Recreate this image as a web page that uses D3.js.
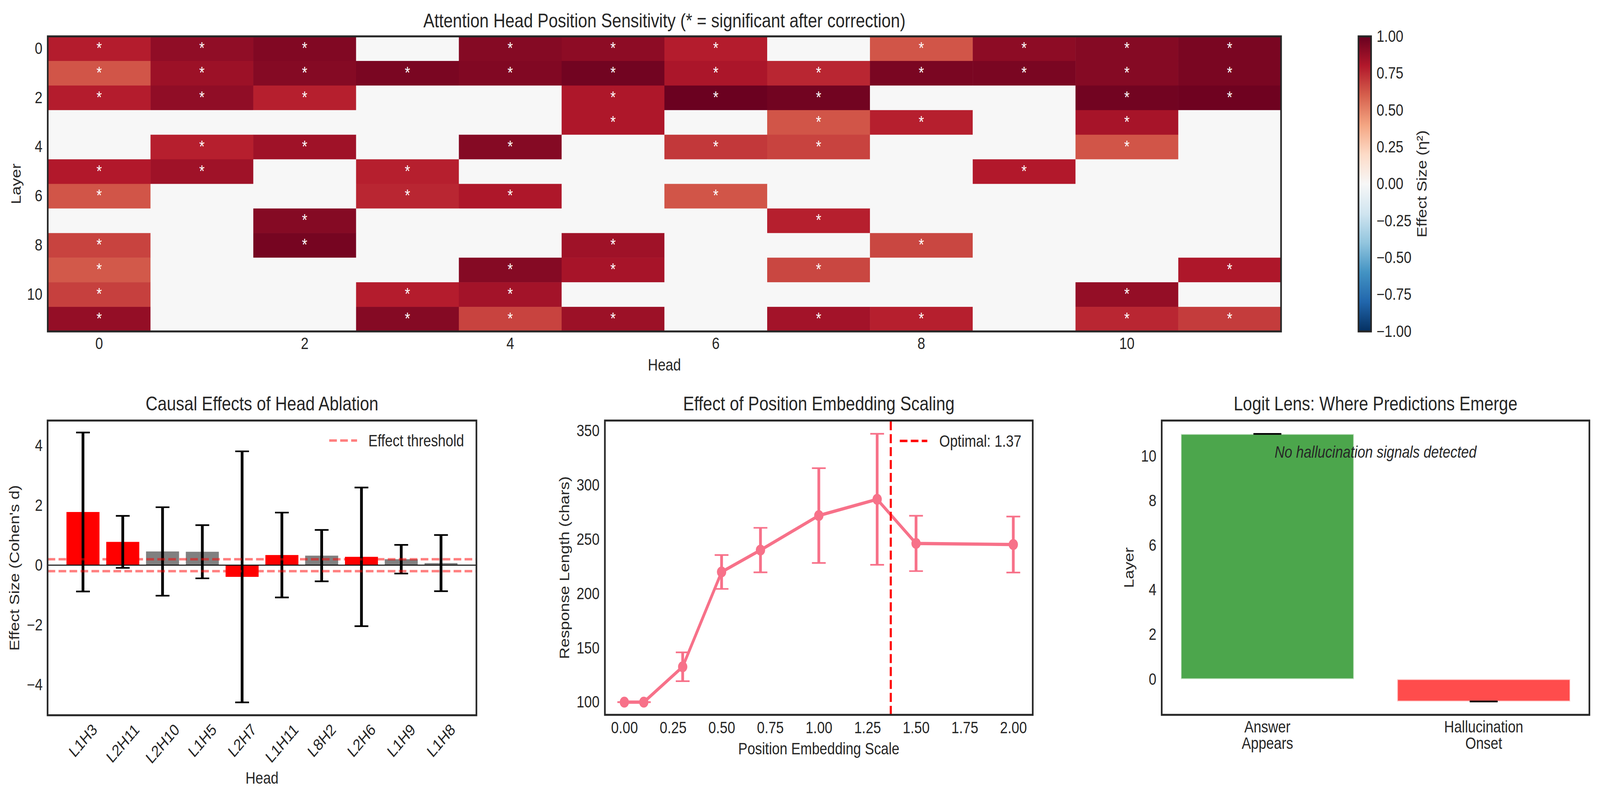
<!DOCTYPE html>
<html><head><meta charset="utf-8">
<script src="https://cdn.jsdelivr.net/npm/d3@7"></script>
<style>
html,body{margin:0;padding:0;background:#fff;overflow:hidden;}
#chart{display:block;width:100vw;height:100vh;}
svg text{font-family:"Liberation Sans",Arial,Helvetica,sans-serif;fill:#262626;}
</style></head><body>
<svg id="chart" viewBox="0 0 4826 2052" preserveAspectRatio="none" xmlns="http://www.w3.org/2000/svg"></svg>
<script>
// ---------------- DATA ----------------
// Heatmap: effect size (eta^2) per layer (rows) x head (cols); 0 = not significant (masked)
const layers = [0,1,2,3,4,5,6,7,8,9,10,11];
const heads = [0,1,2,3,4,5,6,7,8,9,10,11];
const heatTicks = [0,2,4,6,8,10];
const etaSquared = [
  [0.79,0.89,0.93,0,   0.92,0.90,0.79,0,   0.63,0.90,0.92,0.95],
  [0.63,0.86,0.92,0.95,0.93,0.97,0.82,0.76,0.95,0.95,0.92,0.95],
  [0.79,0.89,0.78,0,   0,   0.81,0.99,0.97,0,   0,   0.97,0.98],
  [0,   0,   0,   0,   0,   0.81,0,   0.63,0.78,0,   0.83,0   ],
  [0,   0.78,0.85,0,   0.92,0,   0.71,0.68,0,   0,   0.63,0   ],
  [0.80,0.85,0,   0.78,0,   0,   0,   0,   0,   0.80,0,   0   ],
  [0.63,0,   0,   0.76,0.81,0,   0.63,0,   0,   0,   0,   0   ],
  [0,   0,   0.92,0,   0,   0,   0,   0.78,0,   0,   0,   0   ],
  [0.68,0,   0.96,0,   0,   0.85,0,   0,   0.67,0,   0,   0   ],
  [0.62,0,   0,   0,   0.92,0.83,0,   0.67,0,   0,   0,   0.81],
  [0.69,0,   0,   0.79,0.84,0,   0,   0,   0,   0,   0.88,0   ],
  [0.88,0,   0,   0.92,0.68,0.86,0,   0.84,0.78,0,   0.76,0.70]
];
const colorbarTicks = [-1,-0.75,-0.5,-0.25,0,0.25,0.5,0.75,1];
const rdbuStops = [-1,-0.8,-0.6,-0.4,-0.2,0,0.2,0.4,0.6,0.8,1];
const rdbuColors = ['#053061','#2166ac','#4393c3','#92c5de','#d1e5f0','#f7f7f7','#fddbc7','#f4a582','#d6604d','#b2182b','#67001f'];

// Causal ablation
const ablationHeads = ["L1H3","L2H11","L2H10","L1H5","L2H7","L1H11","L8H2","L2H6","L1H9","L1H8"];
const ablationEffect = [1.78,0.78,0.46,0.45,-0.39,0.34,0.32,0.28,0.20,0.07];
const ablationError = [2.66,0.87,1.48,0.89,4.20,1.42,0.86,2.32,0.48,0.94];
const ablationSignificant = [true,true,false,false,true,true,false,true,false,false];
const effectThreshold = 0.2;
const ablationYTicks = [-4,-2,0,2,4];

// Position embedding scaling
const posScales = [0.0,0.1,0.3,0.5,0.7,1.0,1.3,1.5,2.0];
const respLength = [100,100,132.6,220,240.2,272,287,246.3,245.3];
const respError = [0,0,13.3,15.6,20.5,43.7,60.4,25.5,25.8];
const optimalScale = 1.37;
const posXTicks = [0,0.25,0.5,0.75,1,1.25,1.5,1.75,2];
const posYTicks = [100,150,200,250,300,350];

// Logit lens
const lensCats = [["Answer","Appears"],["Hallucination","Onset"]];
const lensValues = [11,-1];
const lensError = [0,0];
const lensColors = ["#008000","#ff0000"];
const lensYTicks = [0,2,4,6,8,10];

// ---------------- DRAW ----------------
const svg = d3.select("#chart");
const FS = 41.67, TFS = 50, INK = "#262626";
const fmt2 = d3.format(".2f");

function styleAxis(g){
  g.select(".domain").remove();
  g.attr("font-family",null).attr("font-size",null);
  g.selectAll("text").attr("font-size",FS).attr("fill",INK);
}
function frame(x0,y0,x1,y1){
  svg.append("rect").attr("x",x0).attr("y",y0).attr("width",x1-x0).attr("height",y1-y0)
    .attr("fill","none").attr("stroke",INK).attr("stroke-width",5);
}
function title(x,y,t){
  svg.append("text").attr("x",x).attr("y",y).attr("text-anchor","middle").attr("font-size",TFS).text(t);
}
function xlabel(x,y,t){
  svg.append("text").attr("x",x).attr("y",y).attr("text-anchor","middle").attr("font-size",FS).text(t);
}
function ylabel(x,y,t){
  svg.append("text").attr("transform",`translate(${x},${y}) rotate(-90)`).attr("text-anchor","middle")
    .attr("dominant-baseline","central").attr("font-size",FS).text(t);
}

// ===== Heatmap =====
const H = {x0:144,x1:3864,y0:93,y1:848};
const hx = d3.scaleBand().domain(heads).range([H.x0,H.x1]);
const hy = d3.scaleBand().domain(layers).range([H.y0,H.y1]);
const hcolor = d3.scaleLinear().domain(rdbuStops).range(rdbuColors).interpolate(d3.interpolateRgb).clamp(true);
const cells = [];
layers.forEach((l,i)=>heads.forEach((h,j)=>cells.push({l,h,v:etaSquared[i][j]})));
const gh = svg.append("g");
gh.selectAll("rect").data(cells).join("rect")
  .attr("x",d=>hx(d.h)).attr("y",d=>hy(d.l))
  .attr("width",hx.bandwidth()+0.6).attr("height",hy.bandwidth()+0.6)
  .attr("fill",d=>hcolor(d.v));
gh.selectAll("text.star").data(cells.filter(d=>d.v!==0)).join("text").attr("class","star")
  .attr("x",d=>hx(d.h)+hx.bandwidth()/2).attr("y",d=>hy(d.l)+hy.bandwidth()/2+12.5)
  .attr("text-anchor","middle").attr("font-size",FS).style("fill","#fff").text("*");
svg.append("g").attr("transform",`translate(0,${H.y1})`)
  .call(d3.axisBottom(hx).tickValues(heatTicks).tickSize(0).tickPadding(15)).call(styleAxis);
svg.append("g").attr("transform",`translate(${H.x0},0)`)
  .call(d3.axisLeft(hy).tickValues(heatTicks).tickSize(0).tickPadding(16)).call(styleAxis);
frame(H.x0,H.y0,H.x1,H.y1);
title((H.x0+H.x1)/2,70,"Attention Head Position Sensitivity (* = significant after correction)");
xlabel((H.x0+H.x1)/2,948,"Head");
ylabel(48,(H.y0+H.y1)/2,"Layer");

// colorbar
const CB = {x0:4097.5,x1:4135.5};
const cy = d3.scaleLinear().domain([-1,1]).range([H.y1,H.y0]);
const grad = svg.append("defs").append("linearGradient").attr("id","cbgrad")
  .attr("x1",0).attr("x2",0).attr("y1",1).attr("y2",0);
rdbuStops.forEach((s,i)=>grad.append("stop").attr("offset",(s+1)/2).attr("stop-color",rdbuColors[i]));
svg.append("rect").attr("x",CB.x0).attr("y",H.y0).attr("width",CB.x1-CB.x0).attr("height",H.y1-H.y0)
  .attr("fill","url(#cbgrad)");
frame(CB.x0,H.y0,CB.x1,H.y1);
svg.append("g").attr("transform",`translate(${CB.x1+2.5},0)`)
  .call(d3.axisRight(cy).tickValues(colorbarTicks).tickFormat(fmt2).tickSize(0).tickPadding(14)).call(styleAxis);
svg.append("text").attr("transform",`translate(4288,${(H.y0+H.y1)/2}) rotate(-90)`)
  .attr("text-anchor","middle").attr("dominant-baseline","central").attr("font-size",FS).text("Effect Size (η²)");

// ===== Causal ablation =====
const A = {x0:143.5,x1:1437,y0:1076,y1:1830};
const ax = d3.scaleBand().domain(ablationHeads).range([A.x0,A.x1]).paddingInner(0.17).paddingOuter(0.475);
const ay = d3.scaleLinear().domain([-5.02,4.84]).range([A.y1,A.y0]);
const abl = ablationHeads.map((h,i)=>({h,v:ablationEffect[i],e:ablationError[i],s:ablationSignificant[i]}));
const ga = svg.append("g");
ga.selectAll("rect").data(abl).join("rect")
  .attr("x",d=>ax(d.h)).attr("width",ax.bandwidth())
  .attr("y",d=>ay(Math.max(0,d.v))).attr("height",d=>Math.abs(ay(d.v)-ay(0)))
  .attr("fill",d=>d.s?"#ff0000":"#808080");
const cxA = d=>ax(d.h)+ax.bandwidth()/2;
ga.selectAll("line.eb").data(abl).join("line").attr("class","eb")
  .attr("x1",cxA).attr("x2",cxA).attr("y1",d=>ay(d.v-d.e)).attr("y2",d=>ay(d.v+d.e))
  .attr("stroke","#000").attr("stroke-width",8.33);
[-1,1].forEach(sgn=>{
  ga.selectAll(`line.cap${sgn}`).data(abl).join("line").attr("class",`cap${sgn}`)
    .attr("x1",d=>cxA(d)-20.8).attr("x2",d=>cxA(d)+20.8)
    .attr("y1",d=>ay(d.v+sgn*d.e)).attr("y2",d=>ay(d.v+sgn*d.e))
    .attr("stroke","#000").attr("stroke-width",4.17);
});
ga.append("line").attr("x1",A.x0).attr("x2",A.x1).attr("y1",ay(0)).attr("y2",ay(0))
  .attr("stroke","#000").attr("stroke-width",2.5);
[effectThreshold,-effectThreshold].forEach(t=>{
  ga.append("line").attr("x1",A.x0).attr("x2",A.x1).attr("y1",ay(t)).attr("y2",ay(t))
    .attr("stroke","#ff0000").attr("stroke-opacity",0.5).attr("stroke-width",6.25).attr("stroke-dasharray","23.1,10");
});
ga.append("line").attr("x1",993).attr("x2",1077).attr("y1",1127).attr("y2",1127)
  .attr("stroke","#ff0000").attr("stroke-opacity",0.5).attr("stroke-width",6.25).attr("stroke-dasharray","23.1,10");
svg.append("text").attr("x",1111).attr("y",1142).attr("font-size",FS).text("Effect threshold");
const axX = svg.append("g").attr("transform",`translate(0,${A.y1})`)
  .call(d3.axisBottom(ax).tickSize(0)).call(styleAxis);
axX.selectAll("text").each(function(){
  const t = d3.select(this);
  const w = this.getComputedTextLength();
  const Hh = (w+46)/Math.SQRT2;
  t.attr("y",null).attr("dy",null).attr("text-anchor","middle").attr("dominant-baseline","central")
   .attr("transform",`translate(0,${13+Hh/2}) rotate(-45)`);
});
svg.append("g").attr("transform",`translate(${A.x0},0)`)
  .call(d3.axisLeft(ay).tickValues(ablationYTicks).tickSize(0).tickPadding(15)).call(styleAxis);
frame(A.x0,A.y0,A.x1,A.y1);
title((A.x0+A.x1)/2,1050,"Causal Effects of Head Ablation");
xlabel((A.x0+A.x1)/2,2005,"Head");
ylabel(43,(A.y0+A.y1)/2,"Effect Size (Cohen's d)");

// ===== Position embedding scaling =====
const P = {x0:1824.5,x1:3115,y0:1076,y1:1829};
const px = d3.scaleLinear().domain([-0.1,2.1]).range([P.x0,P.x1]);
const py = d3.scaleLinear().domain([88.3,359.6]).range([P.y1,P.y0]);
const PINK = "#f77189";
const pos = posScales.map((s,i)=>({s,v:respLength[i],e:respError[i]}));
const gp = svg.append("g");
gp.selectAll("line.eb").data(pos).join("line").attr("class","eb")
  .attr("x1",d=>px(d.s)).attr("x2",d=>px(d.s)).attr("y1",d=>py(d.v-d.e)).attr("y2",d=>py(d.v+d.e))
  .attr("stroke",PINK).attr("stroke-width",8.33);
[-1,1].forEach(sgn=>{
  gp.selectAll(`line.cap${sgn}`).data(pos).join("line").attr("class",`cap${sgn}`)
    .attr("x1",d=>px(d.s)-20.8).attr("x2",d=>px(d.s)+20.8)
    .attr("y1",d=>py(d.v+sgn*d.e)).attr("y2",d=>py(d.v+sgn*d.e))
    .attr("stroke",PINK).attr("stroke-width",4.17);
});
gp.append("path").datum(pos)
  .attr("d",d3.line().x(d=>px(d.s)).y(d=>py(d.v)))
  .attr("fill","none").attr("stroke",PINK).attr("stroke-width",8.33).attr("stroke-linejoin","round").attr("stroke-linecap","round");
gp.selectAll("circle").data(pos).join("circle")
  .attr("cx",d=>px(d.s)).attr("cy",d=>py(d.v)).attr("r",14).attr("fill",PINK);
gp.append("line").attr("x1",px(optimalScale)).attr("x2",px(optimalScale)).attr("y1",P.y1).attr("y2",P.y0)
  .attr("stroke","#ff0000").attr("stroke-width",6.25).attr("stroke-dasharray","23.1,10");
gp.append("line").attr("x1",2714).attr("x2",2797).attr("y1",1128).attr("y2",1128)
  .attr("stroke","#ff0000").attr("stroke-width",6.25).attr("stroke-dasharray","23.1,10");
svg.append("text").attr("x",2833).attr("y",1143).attr("font-size",FS).text("Optimal: " + optimalScale.toFixed(2));
svg.append("g").attr("transform",`translate(0,${P.y1})`)
  .call(d3.axisBottom(px).tickValues(posXTicks).tickFormat(fmt2).tickSize(0).tickPadding(17)).call(styleAxis);
svg.append("g").attr("transform",`translate(${P.x0},0)`)
  .call(d3.axisLeft(py).tickValues(posYTicks).tickSize(0).tickPadding(16)).call(styleAxis);
frame(P.x0,P.y0,P.x1,P.y1);
title((P.x0+P.x1)/2,1050,"Effect of Position Embedding Scaling");
xlabel((P.x0+P.x1)/2,1930,"Position Embedding Scale");
ylabel(1702,(P.y0+P.y1)/2,"Response Length (chars)");

// ===== Logit lens =====
const L = {x0:3504,x1:4794,y0:1076,y1:1829};
const lensKeys = lensCats.map(c=>c.join(" "));
const lx = d3.scaleBand().domain(lensKeys).range([L.x0,L.x1]).paddingInner(0.2).paddingOuter(0.0885);
const ly = d3.scaleLinear().domain([-1.6,11.6]).range([L.y1,L.y0]);
const lens = lensKeys.map((k,i)=>({k,v:lensValues[i],e:lensError[i],c:lensColors[i]}));
const gl = svg.append("g");
gl.selectAll("rect").data(lens).join("rect")
  .attr("x",d=>lx(d.k)).attr("width",lx.bandwidth())
  .attr("y",d=>ly(Math.max(0,d.v))).attr("height",d=>Math.abs(ly(d.v)-ly(0)))
  .attr("fill",d=>d.c).attr("fill-opacity",0.7)
  .attr("stroke","#fff").attr("stroke-opacity",0.7).attr("stroke-width",4.17);
const cxL = d=>lx(d.k)+lx.bandwidth()/2;
[-1,1].forEach(sgn=>{
  gl.selectAll(`line.cap${sgn}`).data(lens).join("line").attr("class",`cap${sgn}`)
    .attr("x1",d=>cxL(d)-42).attr("x2",d=>cxL(d)+42)
    .attr("y1",d=>ly(d.v+sgn*d.e)).attr("y2",d=>ly(d.v+sgn*d.e))
    .attr("stroke","#000").attr("stroke-width",4.17);
});
svg.append("text").attr("x",(L.x0+L.x1)/2).attr("y",1171).attr("text-anchor","middle")
  .attr("font-size",FS).attr("font-style","italic").text("No hallucination signals detected");
const lxA = svg.append("g").attr("transform",`translate(0,${L.y1})`)
  .call(d3.axisBottom(lx).tickSize(0).tickPadding(15)).call(styleAxis);
lxA.selectAll("text").each(function(d,i){
  const t = d3.select(this);
  t.text(null);
  lensCats[i].forEach((ln,j)=>{
    t.append("tspan").attr("x",0).attr("dy",j===0?"0.71em":"42px").text(ln);
  });
}).attr("dy",null);
svg.append("g").attr("transform",`translate(${L.x0},0)`)
  .call(d3.axisLeft(ly).tickValues(lensYTicks).tickSize(0).tickPadding(16)).call(styleAxis);
frame(L.x0,L.y0,L.x1,L.y1);
title((L.x0+L.x1)/2,1050,"Logit Lens: Where Predictions Emerge");
ylabel(3405,(L.y0+L.y1)/2,"Layer");
</script>
</body></html>
